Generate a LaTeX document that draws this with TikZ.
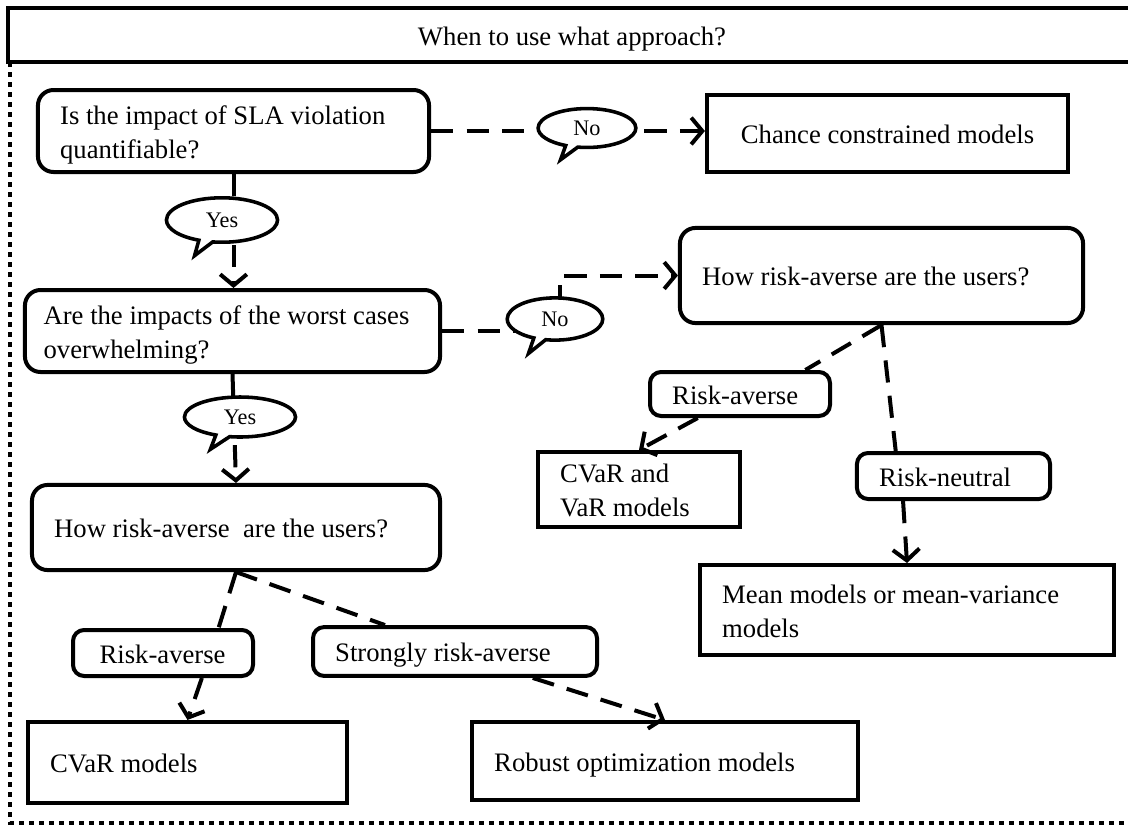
\documentclass[tikz,border=0pt]{standalone}
\usepackage{fontspec}
\setmainfont{Liberation Serif}
\usetikzlibrary{positioning, arrows.meta, shapes.callouts}

\begin{document}
\begin{tikzpicture}[
		x=0.45pt, y=-0.45pt,
		every node/.style={font=\fontsize{12}{15.3}\selectfont},
		oneline/.style={text height=10pt, text depth=0.8pt},
		twoline/.style={text height=10pt, text depth=16.1pt},
		titlebar/.style={draw, line width=1.8pt, minimum width=507.6pt, minimum height=24pt, inner sep=0pt, oneline},
		question/.style={draw, rounded corners=7pt, line width=1.8pt, align=flush left, inner xsep=10pt, inner ysep=0pt},
		choice/.style={draw, rounded corners=5pt, line width=1.8pt, align=flush left, inner xsep=10pt, inner ysep=0pt, oneline},
		model/.style={draw, line width=1.8pt, align=flush left, inner xsep=10pt, inner ysep=0pt},
		bubble/.style={ellipse callout, draw, fill=white, line width=1.6pt, inner sep=0pt, font=\fontsize{10}{12}\selectfont},
		link/.style={line width=1.8pt, dash pattern=on 10pt off 6pt},
		arrow/.style={link, -{Straight Barb[length=5pt, width=12pt]}},
		frame/.style={line width=1.4pt, dash pattern=on 2.2pt off 2.3pt}
	]
	\useasboundingbox (0,0) rectangle (1128,826);

	% Frame
	\node[titlebar] (title) at (572,35) {When to use what approach?};
	\draw[frame] (10,62) -- (10,823) -- (1140,823);

	% Nodes
	\node[question, twoline, text width=156pt, minimum height=36.9pt] (q1) at (233.5,131) {Is the impact of SLA violation\\quantifiable?};
	\node[model, oneline, align=center, minimum width=162.5pt, minimum height=34.7pt] (chance) at (887.5,133.5) {Chance constrained models};
	\node[question, twoline, text width=170pt, inner xsep=8.4pt, minimum height=36.9pt] (q2) at (232.5,331) {Are the impacts of the worst cases\\overwhelming?};
	\node[question, oneline, text width=161.4pt, minimum height=42.8pt] (q3) at (881.5,275.5) {How risk-averse are the users?};
	\node[choice, text width=61pt, minimum height=19.8pt] (labRA1) at (740,394) {Risk-averse};
	\node[model, twoline, text width=70.9pt, minimum height=33.8pt] (cvarvar) at (639,489.5) {CVaR and\\VaR models};
	\node[choice, text width=66.9pt, minimum height=20.7pt] (labRN) at (953.5,476) {Risk-neutral};
	\node[model, twoline, text width=166.3pt, minimum height=40.5pt] (mean) at (907,610) {Mean models or mean-variance\\models};
	\node[question, oneline, text width=163.6pt, minimum height=38.3pt] (q4) at (236,527.5) {How risk-averse~ are the users?};
	\node[choice, inner xsep=12pt, text width=57pt, minimum height=20.7pt] (labRA2) at (163,653) {Risk-averse};
	\node[choice, text width=107.8pt, minimum height=22pt] (labSRA) at (455,651.5) {Strongly risk-averse};
	\node[model, oneline, text width=123.6pt, minimum height=36.5pt] (cvar) at (187.5,762.5) {CVaR models};
	\node[model, oneline, text width=153.7pt, minimum height=35.1pt] (robust) at (665,761) {Robust optimization models};

	% Connections
	\draw[arrow] (q1.east) -- (q1.east -| chance.west);
	\draw[arrow] (q1.south) -- (q1.south |- q2.north);
	\draw[arrow] (q2.east) -- ++(118,0) |- (q3.west);

	\draw[link] (q3.south) -- ([xshift=-12pt]labRA1.north east);
	\draw[arrow] ([xshift=-19pt]labRA1.south) -- (cvarvar.north);
	\draw[link] (q3.south) -- ([xshift=-26pt]labRN.north);
	\draw[arrow] ([xshift=-22.7pt]labRN.south) -- (mean.north);

	\draw[arrow] (q2.south) -- (q4.north);

	\draw[link] (q4.south) -- ([xshift=25pt]labRA2.north);
	\draw[arrow] ([xshift=17.5pt]labRA2.south) -- (cvar.north);
	\draw[link] (q4.south) -- ([xshift=-31.5pt]labSRA.north);
	\draw[arrow] ([xshift=35pt]labSRA.south) -- (robust.north);

	% Answers
	\node[bubble, minimum width=44pt, minimum height=17.5pt, callout relative pointer={(-5pt,-6pt)}] (no1) at (587,128) {No};
	\node[bubble, minimum width=50pt, minimum height=20pt, callout relative pointer={(-5pt,-6.5pt)}] (yes1) at (222,220) {Yes};
	\node[bubble, minimum width=43pt, minimum height=19pt, callout relative pointer={(-5pt,-6.5pt)}] (no2) at (555,319) {No};
	\node[bubble, minimum width=50pt, minimum height=18pt, callout relative pointer={(-5.5pt,-6pt)}] (yes2) at (240,417) {Yes};

\end{tikzpicture}
\end{document}
